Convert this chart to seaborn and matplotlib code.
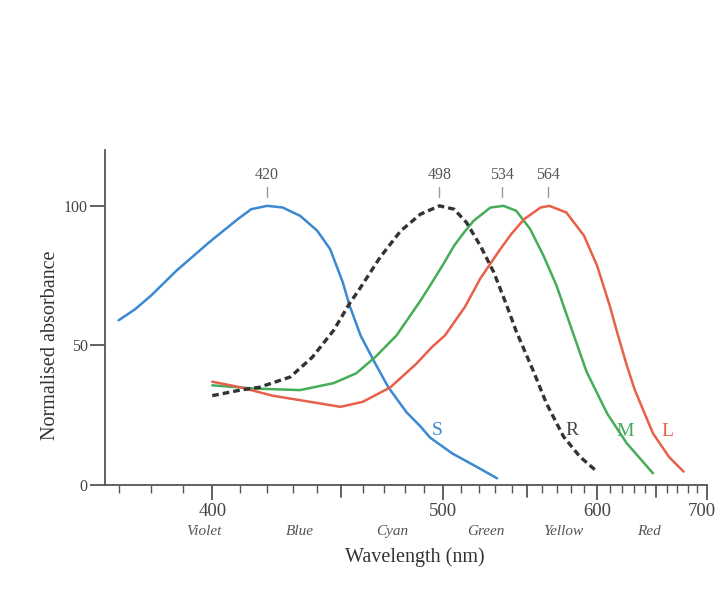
import numpy as np
import pandas as pd
import seaborn as sns
import matplotlib.pyplot as plt
import matplotlib.transforms as mtransforms
from matplotlib.ticker import FixedLocator, FormatStrFormatter, NullFormatter

# S cone (blue)
s_nm = [370, 375, 380, 388, 399, 409, 414, 420, 426, 433, 440, 445.5, 451,
        454, 459, 465, 472, 481, 488, 493, 505, 518, 531]
s_abs = [59, 63, 68, 76.8, 87, 95.2, 98.8, 100, 99.4, 96.4, 91.1, 84.5, 72.6,
         64.3, 53.5, 44.6, 35, 26, 21, 17, 11.3, 6.8, 2.4]

# rods (dashed)
r_nm = [400, 410, 417, 429, 438, 447, 454, 459, 468, 478, 488, 498, 506, 513,
        521, 529, 537, 543, 554, 563, 575, 587, 600]
r_abs = [32, 34, 35, 38.7, 45.8, 55.4, 65, 70.8, 81.5, 91, 97, 100, 98.8, 94,
         85.7, 76.2, 64.3, 55, 41, 29.2, 17.3, 10.1, 4.8]

# M cone (green)
m_nm = [400, 416, 433, 447, 457, 466, 476, 488, 493, 500, 506, 511, 517, 527,
        535, 543, 552, 561, 570, 580, 592, 608, 624, 647]
m_abs = [35.7, 34.5, 34, 36.5, 40, 46, 53.6, 66, 71.4, 79, 85.7, 90, 94.6,
         99.4, 100, 98.2, 91.7, 82.1, 71.4, 57, 40.5, 25.6, 15, 4.2]

# L cone (red)
l_nm = [400, 410, 422, 437, 450, 460, 473, 486, 494, 501, 512, 521, 533, 540,
        548, 559, 565, 577, 590, 600, 610, 616, 624, 631, 647, 662, 676]
l_abs = [37, 35, 32, 29.8, 28, 29.8, 35, 43.5, 49.4, 53.6, 63.7, 74, 84.5, 90,
         95.2, 99.4, 100, 97.6, 89.3, 78.6, 64.3, 54.8, 43, 34, 18.5, 10, 4.8]

peaks = [420, 498, 534, 564]
band_names = ["Violet", "Blue", "Cyan", "Green", "Yellow", "Red"]
band_nm = [397, 433, 474, 524, 575, 643]

blue = "#3a89d2"
green = "#45ad57"
red = "#e8604a"
dark = "#333333"
grey = "#555555"

sns.set_theme(style="white")
plt.rcParams["font.family"] = ["Liberation Serif", "DejaVu Serif"]

fig = plt.figure(figsize=(7.19, 5.90), dpi=100)
ax = fig.add_axes([105 / 719, 105 / 590, 602 / 719, 335 / 590])


def fwd(x):
    x = np.asarray(x, dtype=float)
    with np.errstate(divide="ignore", invalid="ignore"):
        return -1.0 / x


def inv(y):
    y = np.asarray(y, dtype=float)
    with np.errstate(divide="ignore", invalid="ignore"):
        return -1.0 / y


sns.lineplot(x=s_nm, y=s_abs, ax=ax, color=blue, linewidth=1.8, sort=False)
sns.lineplot(x=m_nm, y=m_abs, ax=ax, color=green, linewidth=1.8, sort=False)
sns.lineplot(x=l_nm, y=l_abs, ax=ax, color=red, linewidth=1.8, sort=False)
sns.lineplot(x=r_nm, y=r_abs, ax=ax, color=dark, linewidth=2.4, sort=False,
             linestyle=(0, (2.0, 1.2)))

# wavelength axis is linear in wavenumber (1/lambda)
ax.set_xscale("function", functions=(fwd, inv))
ax.set_xlim(366, 700)
ax.set_ylim(0, 120)

sns.despine(ax=ax)
for side in ["left", "bottom"]:
    ax.spines[side].set_color(grey)
    ax.spines[side].set_linewidth(1.3)

ax.xaxis.set_major_locator(FixedLocator([400, 500, 600, 700]))
ax.xaxis.set_major_formatter(FormatStrFormatter("%d"))
minors = [v for v in range(370, 701, 10) if v % 50 != 0]
ax.xaxis.set_minor_locator(FixedLocator(minors))
ax.xaxis.set_minor_formatter(NullFormatter())
ax.set_yticks([0, 50, 100])

ax.tick_params(axis="x", which="major", length=11, width=1.3, color=grey,
               labelsize=13.5, labelcolor="#444444", pad=2, direction="out",
               bottom=True)
ax.tick_params(axis="x", which="minor", length=5.5, width=1.0, color=grey,
               direction="out", bottom=True)
ax.tick_params(axis="y", which="major", length=10.5, width=1.3, color=grey,
               labelsize=11.5, labelcolor="#444444", pad=2, direction="out",
               left=True)

# keep the last tick label inside the picture
fig.canvas.draw()
last = ax.get_xticklabels()[-1]
last.set_transform(last.get_transform()
                   + mtransforms.ScaledTranslation(-4 / 72, 0, fig.dpi_scale_trans))

# medium ticks at the half-hundreds
trans = mtransforms.blended_transform_factory(ax.transData, ax.transAxes)
for v in [450, 550, 650]:
    ax.plot([v, v], [0, -0.036], transform=trans, color=grey, lw=1.3,
            clip_on=False)

# peak markers
for p in peaks:
    ax.plot([p, p], [103.3, 106.8], color="#999999", lw=1.0)
    ax.text(p, 108.3, str(p), ha="center", va="bottom", fontsize=11.5,
            color="#555555")

# curve labels
ax.text(497, 19.6, "S", color=blue, fontsize=14, ha="center", va="center")
ax.text(581, 19.6, "R", color="#444444", fontsize=14, ha="center", va="center")
ax.text(623, 19.0, "M", color=green, fontsize=14, ha="center", va="center")
ax.text(660, 19.0, "L", color=red, fontsize=14, ha="center", va="center")

# colour band names
for name, v in zip(band_names, band_nm):
    ax.text(v, -0.14, name, transform=trans, ha="center", va="center",
            fontsize=11, style="italic", color="#555555")

ax.set_xlabel("Wavelength (nm)", fontsize=14.5, color="#333333")
ax.xaxis.set_label_coords(0.515, -0.185)
ax.set_ylabel("Normalised absorbance", fontsize=14.5, color="#333333")
ax.yaxis.set_label_coords(-0.075, 0.418)

fig.savefig("out.png", dpi=100, facecolor="white")
